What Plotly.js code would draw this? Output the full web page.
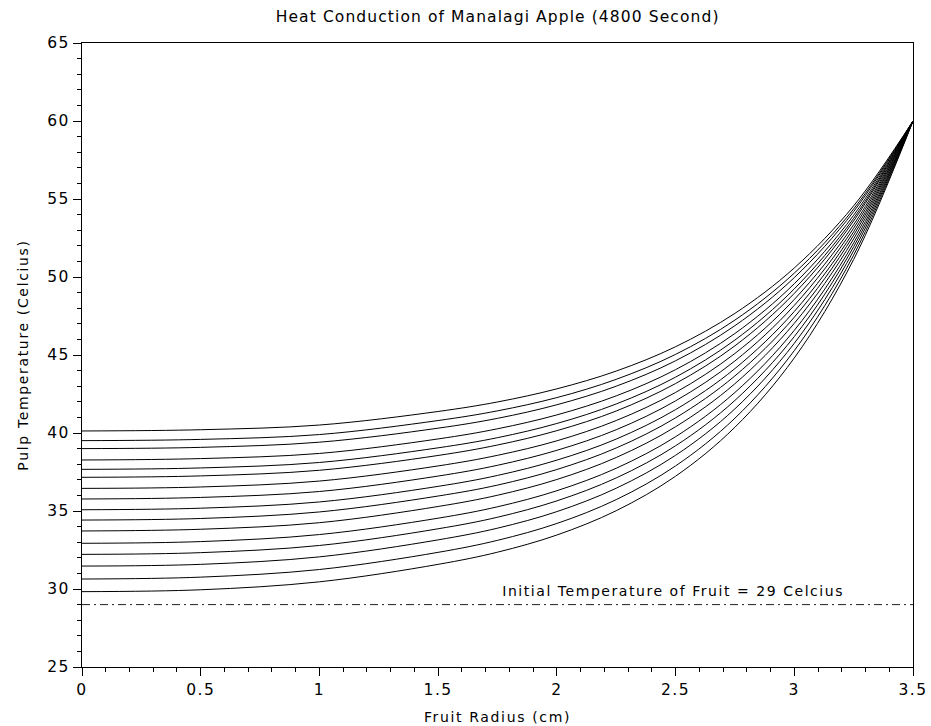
<!DOCTYPE html>
<html>
<head>
<meta charset="utf-8">
<script src="https://cdn.plot.ly/plotly-3.0.1.min.js"></script>
<style>
html,body{margin:0;padding:0;background:#fff;}
#chart{width:931px;height:726px;}
#chart .gtitle{letter-spacing:1.1px !important;}
#chart .xtitle, #chart .ytitle{letter-spacing:1.65px !important;}
#chart .annotation-text{letter-spacing:1.55px !important;}
#chart .xtick text, #chart .ytick text{letter-spacing:1.5px !important;}
</style>
</head>
<body>
<div id="chart"></div>
<script>
// Fruit radius (cm) sample positions
var radius = [0, 0.5, 1, 1.5, 1.75, 2, 2.25, 2.5, 2.75, 3, 3.25, 3.5];

// Temperature profiles (Celcius), one per time step, bottom to top
var profile01 = [29.83, 29.95, 30.46, 31.58, 32.36, 33.46, 35.02, 37.23, 40.37, 44.81, 51.12, 60];
var profile02 = [30.64, 30.76, 31.25, 32.35, 33.12, 34.20, 35.73, 37.89, 40.95, 45.28, 51.40, 60];
var profile03 = [31.47, 31.58, 32.06, 33.15, 33.90, 34.96, 36.46, 38.57, 41.55, 45.75, 51.68, 60];
var profile04 = [32.22, 32.33, 32.79, 33.86, 34.60, 35.65, 37.12, 39.18, 42.09, 46.18, 51.94, 60];
var profile05 = [32.93, 33.04, 33.49, 34.54, 35.27, 36.30, 37.74, 39.76, 42.60, 46.58, 52.18, 60];
var profile06 = [33.72, 33.83, 34.25, 35.29, 36.01, 37.02, 38.43, 40.40, 43.16, 47.03, 52.44, 60];
var profile07 = [34.42, 34.52, 34.94, 35.96, 36.66, 37.66, 39.04, 40.97, 43.66, 47.42, 52.68, 60];
var profile08 = [35.08, 35.18, 35.58, 36.58, 37.28, 38.26, 39.61, 41.50, 44.13, 47.79, 52.90, 60];
var profile09 = [35.77, 35.87, 36.25, 37.24, 37.93, 38.89, 40.21, 42.06, 44.62, 48.18, 53.13, 60];
var profile10 = [36.45, 36.54, 36.92, 37.89, 38.57, 39.50, 40.80, 42.60, 45.10, 48.56, 53.35, 60];
var profile11 = [37.16, 37.25, 37.61, 38.56, 39.23, 40.15, 41.41, 43.17, 45.59, 48.95, 53.59, 60];
var profile12 = [37.67, 37.76, 38.11, 39.05, 39.70, 40.61, 41.86, 43.58, 45.96, 49.24, 53.76, 60];
var profile13 = [38.27, 38.36, 38.69, 39.62, 40.27, 41.16, 42.38, 44.06, 46.38, 49.57, 53.96, 60];
var profile14 = [39.00, 39.08, 39.41, 40.31, 40.94, 41.81, 43.00, 44.63, 46.88, 49.96, 54.19, 60];
var profile15 = [39.51, 39.59, 39.90, 40.80, 41.42, 42.27, 43.44, 45.04, 47.24, 50.25, 54.36, 60];
var profile16 = [40.13, 40.21, 40.51, 41.38, 41.99, 42.83, 43.97, 45.53, 47.67, 50.58, 54.56, 60];

// Initial temperature reference line
var initRadius = [0, 3.5];
var initTemp = [29, 29];
var initLabel = "Initial Temperature of Fruit = 29 Celcius";

var profiles = [profile01, profile02, profile03, profile04, profile05, profile06, profile07, profile08,
                profile09, profile10, profile11, profile12, profile13, profile14, profile15, profile16];

var traces = profiles.map(function (p) {
  return {
    x: radius, y: p, type: 'scatter', mode: 'lines',
    line: {color: '#000', width: 1, shape: 'spline', smoothing: 1},
    hoverinfo: 'skip', showlegend: false
  };
});
traces.push({
  x: initRadius, y: initTemp, type: 'scatter', mode: 'lines',
  line: {color: '#222', width: 1, dash: '8px,4px,2px,4px'},
  showlegend: false, hoverinfo: 'skip'
});

var font = 'DejaVu Sans, Verdana, sans-serif';
var layout = {
  width: 931, height: 726,
  margin: {l: 82, r: 18, t: 43, b: 59},
  paper_bgcolor: '#fff', plot_bgcolor: '#fff',
  font: {family: font, color: '#000', size: 14},
  title: {text: 'Heat Conduction of Manalagi Apple (4800 Second)', font: {family: font, size: 15.5, color: '#000'},
          x: 0.5345, xanchor: 'center', y: 0.977, yanchor: 'middle'},
  xaxis: {
    range: [0, 3.5], dtick: 0.5, tick0: 0, showgrid: false, zeroline: false,
    showline: true, linecolor: '#000', linewidth: 1, mirror: true,
    ticks: 'outside', ticklen: 8, tickwidth: 1, tickcolor: '#000',
    minor: {dtick: 0.1, ticks: 'outside', ticklen: 4, tickwidth: 1, tickcolor: '#000', showgrid: false},
    tickfont: {family: font, size: 15.5, color: '#000'},
    title: {text: 'Fruit Radius (cm)', font: {family: font, size: 14, color: '#000'}, standoff: 14}
  },
  yaxis: {
    range: [25, 65], dtick: 5, tick0: 25, showgrid: false, zeroline: false,
    showline: true, linecolor: '#000', linewidth: 1, mirror: true,
    ticks: 'outside', ticklen: 8, tickwidth: 1, tickcolor: '#000',
    minor: {dtick: 1, ticks: 'outside', ticklen: 4, tickwidth: 1, tickcolor: '#000', showgrid: false},
    tickfont: {family: font, size: 15.5, color: '#000'},
    title: {text: 'Pulp Temperature (Celcius)', font: {family: font, size: 14, color: '#000'}, standoff: 18}
  },
  annotations: [{
    x: 2.49, y: 29.87, xref: 'x', yref: 'y', text: initLabel, showarrow: false,
    font: {family: font, size: 14, color: '#000'}, xanchor: 'center', yanchor: 'middle'
  }]
};

Plotly.newPlot('chart', traces, layout, {displayModeBar: false, staticPlot: true});
</script>
</body>
</html>
